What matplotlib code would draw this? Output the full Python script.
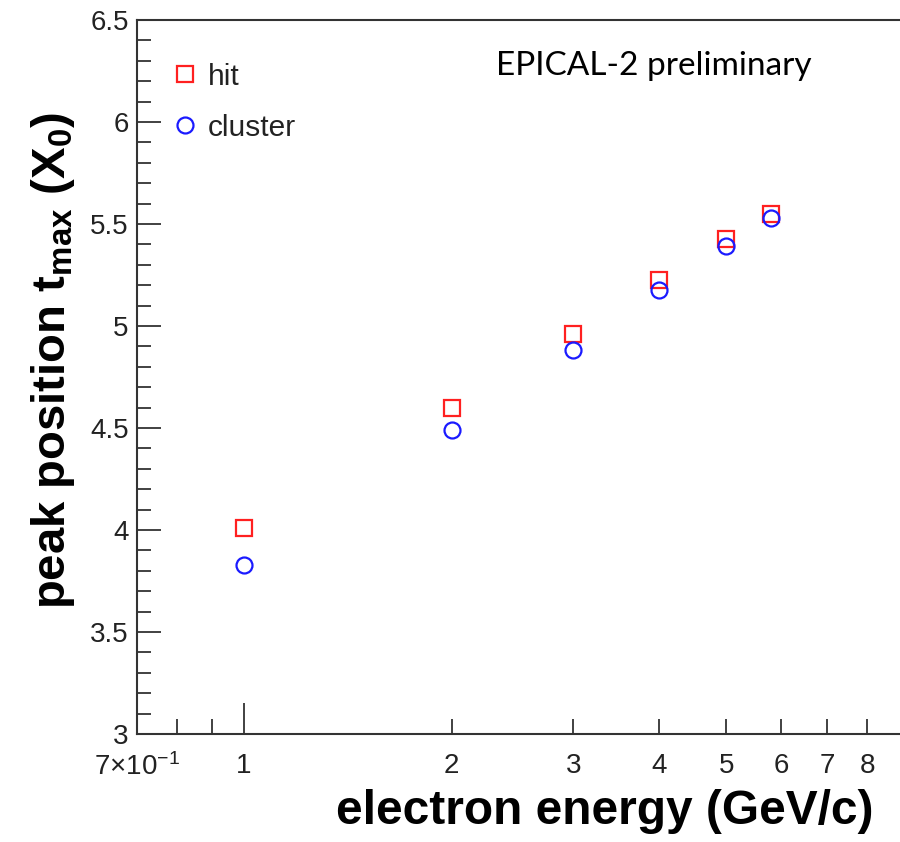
import matplotlib
matplotlib.use("Agg")
import matplotlib.pyplot as plt
from matplotlib.ticker import FixedLocator, FixedFormatter

plt.rcParams['font.family'] = ['Liberation Sans', 'DejaVu Sans']
plt.rcParams['mathtext.fontset'] = 'custom'
plt.rcParams['mathtext.rm'] = 'Liberation Sans'
plt.rcParams['mathtext.it'] = 'Liberation Sans:italic'
plt.rcParams['mathtext.bf'] = 'Liberation Sans:bold'

# data
energy = [1, 2, 3, 4, 5, 5.8]
tmax_hit = [4.01, 4.60, 4.96, 5.225, 5.425, 5.55]
tmax_cluster = [3.83, 4.49, 4.88, 5.175, 5.39, 5.53]

x_major = [1]
x_major_labels = ["1"]
x_minor = [0.7, 0.8, 0.9, 2, 3, 4, 5, 6, 7, 8, 9]
x_minor_labels = [r"$7{\times}10^{-1}$", "", "", "2", "3", "4", "5", "6", "7", "8", ""]
y_ticks = [3, 3.5, 4, 4.5, 5, 5.5, 6, 6.5]
y_tick_labels = ["3", "3.5", "4", "4.5", "5", "5.5", "6", "6.5"]

W, H = 900, 842
fig = plt.figure(figsize=(9, 8.42), dpi=100)
left = 137 / W
bottom = (H - 734) / H
height = 714 / H
width = 797 / W
ax = fig.add_axes([left, bottom, width, height])

ax.set_xscale('log')
ax.set_xlim(0.7, 10)
ax.set_ylim(3, 6.5)

ms = 11.5
ax.plot(energy, tmax_hit, linestyle='none', marker='s', markersize=ms,
        markerfacecolor='none', markeredgecolor='#ff2020', markeredgewidth=1.6, label='hit')
ax.plot(energy, tmax_cluster, linestyle='none', marker='o', markersize=ms,
        markerfacecolor='none', markeredgecolor='#1a1aff', markeredgewidth=1.6, label='cluster')

ax.xaxis.set_major_locator(FixedLocator(x_major))
ax.xaxis.set_major_formatter(FixedFormatter(x_major_labels))
ax.xaxis.set_minor_locator(FixedLocator(x_minor))
ax.xaxis.set_minor_formatter(FixedFormatter(x_minor_labels))
ax.set_yticks(y_ticks)
ax.set_yticklabels(y_tick_labels)
ax.set_yticks([3 + 0.1 * i for i in range(36)], minor=True)

tc = '#333333'
for s in ax.spines.values():
    s.set_color(tc)
    s.set_linewidth(1.5)

ax.tick_params(axis='both', which='both', direction='in', color=tc, width=1.3,
               labelcolor='#222222', labelsize=20)
ax.tick_params(axis='x', which='major', length=22, pad=14)
ax.tick_params(axis='x', which='minor', length=11, pad=14)
ax.tick_params(axis='y', which='major', length=17, pad=6)
ax.tick_params(axis='y', which='minor', length=10)

ax.legend(loc='upper left', bbox_to_anchor=(0.012, 0.978), frameon=False,
          fontsize=21.5, handlelength=0.8, handletextpad=0.35, labelspacing=0.77,
          labelcolor='#222222')

fig.text(496 / W, 1 - 66 / H, "EPICAL-2 preliminary", fontsize=24,
         family=['Lato', 'DejaVu Sans'], va='center', ha='left', color='black')

fig.text(873 / W, 1 - 812 / H, "electron energy (GeV/c)", fontsize=34.5,
         fontweight='bold', ha='right', va='center')
fig.text(53 / W, 1 - 360 / H, r"peak position t$_{\mathbf{max}}$ (X$_{\mathbf{0}}$)",
         fontsize=34, fontweight='bold', rotation=90, ha='center', va='center')

fig.savefig("out.png", dpi=100)
